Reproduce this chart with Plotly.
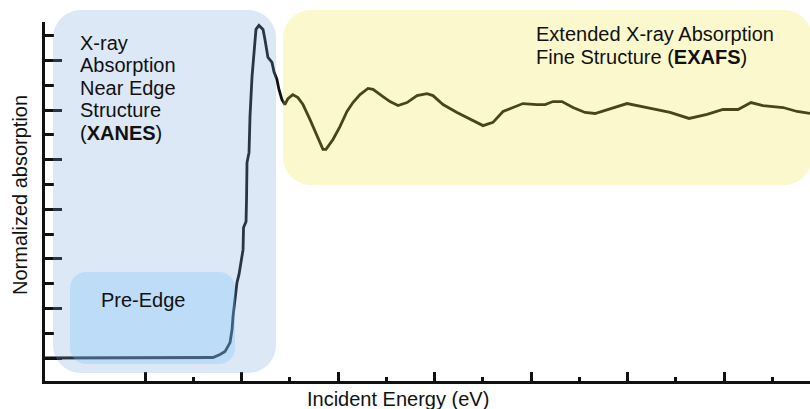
import plotly.graph_objects as go

# Normalized absorption spectrum across an absorption edge
energy_ev = [
    8896.0, 8953.0, 9005.0, 9057.0, 9070.5, 9077.7, 9082.9, 9088.1, 9090.2, 9091.2,
    9093.3, 9095.3, 9097.4, 9099.5, 9101.6, 9102.1, 9104.7, 9105.2, 9105.7, 9107.8,
    9108.8, 9110.9, 9113.0, 9115.0, 9118.1, 9122.3, 9124.3, 9126.4, 9127.4, 9131.6,
    9133.6, 9136.7, 9138.8, 9141.9, 9145.0, 9148.1, 9153.2, 9158.5, 9163.7, 9170.9,
    9178.2, 9184.4, 9187.5, 9194.8, 9202.0, 9209.3, 9215.5, 9222.8, 9231.1, 9236.3,
    9246.6, 9253.9, 9262.2, 9271.5, 9281.9, 9292.2, 9298.4, 9308.8, 9323.3, 9336.8,
    9350.3, 9360.6, 9371.0, 9381.4, 9391.7, 9406.2, 9414.5, 9422.8, 9432.1, 9443.5,
    9456.0, 9466.3, 9485.0, 9499.5, 9520.2, 9544.1, 9563.8, 9582.4, 9599.0, 9614.5,
    9628.0, 9640.4, 9661.2, 9675.7, 9689.1,
]
absorption = [
    0.000, 0.000, 0.000, 0.000, 0.002, 0.014, 0.026, 0.062, 0.115, 0.167,
    0.248, 0.304, 0.337, 0.397, 0.437, 0.526, 0.550, 0.639, 0.788, 0.829,
    0.974, 1.135, 1.232, 1.325, 1.341, 1.325, 1.284, 1.244, 1.212, 1.192,
    1.155, 1.123, 1.083, 1.042, 1.022, 1.046, 1.062, 1.050, 1.022, 0.962,
    0.893, 0.841, 0.841, 0.881, 0.933, 0.994, 1.030, 1.062, 1.087, 1.083,
    1.054, 1.034, 1.018, 1.030, 1.058, 1.066, 1.058, 1.022, 0.990, 0.962,
    0.937, 0.950, 0.994, 1.010, 1.026, 1.022, 1.022, 1.034, 1.034, 1.010,
    0.990, 0.986, 1.010, 1.026, 1.010, 0.990, 0.966, 0.982, 1.002, 1.002,
    1.030, 1.018, 1.010, 0.994, 0.986,
]

# Axis ticks (labels hidden)
x_major_ticks = [9000, 9100, 9200, 9300, 9400, 9500, 9600]
x_minor_ticks = [9050, 9150, 9250, 9350, 9450, 9550, 9650]
y_major_ticks = [0.0, 0.2, 0.4, 0.6, 0.8, 1.0, 1.2]
y_minor_ticks = [0.1, 0.3, 0.5, 0.7, 0.9, 1.1, 1.3]

# Region labels
xanes_lines = ["X-ray", "Absorption", "Near Edge", "Structure", "(<b>XANES</b>)"]
exafs_lines = ["Extended X-ray Absorption", "Fine Structure (<b>EXAFS</b>)"]
pre_edge_label = "Pre-Edge"
x_title = "Incident Energy (eV)"
y_title = "Normalized absorption"

W, H = 810, 409
M = dict(l=45, r=0, t=22, b=28)
PW = W - M["l"] - M["r"]
PH = H - M["t"] - M["b"]
FONT = "Liberation Sans, Arial, sans-serif"
INK = "#111111"


def px_x(x):
    """Canvas x (pixels) -> paper fraction."""
    return (x - M["l"]) / PW


def px_y(y):
    """Canvas y (pixels from top) -> paper fraction."""
    return (H - M["b"] - y) / PH


def rounded_box(left, top, right, bottom, r):
    """SVG path of a rounded rectangle given in canvas pixels, in paper units."""
    k = 0.4477  # bezier offset for a quarter circle (1 - 0.5523)
    x0, x1 = px_x(left), px_x(right)
    y0, y1 = px_y(top), px_y(bottom)
    rx, ry = r / PW, r / PH
    kx, ky = rx * k, ry * k
    return (
        f"M {x0 + rx},{y0} L {x1 - rx},{y0} "
        f"C {x1 - kx},{y0} {x1},{y0 - ky} {x1},{y0 - ry} "
        f"L {x1},{y1 + ry} "
        f"C {x1},{y1 + ky} {x1 - kx},{y1} {x1 - rx},{y1} "
        f"L {x0 + rx},{y1} "
        f"C {x0 + kx},{y1} {x0},{y1 + ky} {x0},{y1 + ry} "
        f"L {x0},{y0 - ry} "
        f"C {x0},{y0 - ky} {x0 + kx},{y0} {x0 + rx},{y0} Z"
    )


fig = go.Figure()
fig.add_trace(go.Scatter(
    x=energy_ev, y=absorption, mode="lines",
    line=dict(color=INK, width=2.8),
    hoverinfo="skip", showlegend=False,
))

# Translucent region highlights drawn over the spectrum
regions = [
    (rounded_box(53, 10, 276, 373, 28), "rgba(115,163,215,0.25)"),
    (rounded_box(70, 272, 235, 364, 16), "rgba(120,192,255,0.30)"),
    (rounded_box(283, 10, 812, 185, 28), "rgba(243,227,59,0.25)"),
]
for path, fill in regions:
    fig.add_shape(type="path", path=path, xref="paper", yref="paper",
                  fillcolor=fill, line=dict(width=0), layer="above")

text_font = dict(family=FONT, size=20, color=INK)


def label(text, x, y_mid, **kw):
    fig.add_annotation(text=text, x=px_x(x), y=px_y(y_mid), xref="paper", yref="paper",
                       xanchor=kw.pop("xanchor", "left"), yanchor="middle",
                       showarrow=False, font=text_font, **kw)


for i, line in enumerate(xanes_lines):
    label(line, 78, 42.5 + 22.5 * i)
for i, line in enumerate(exafs_lines):
    label(line, 534, 34 + 23.3 * i)
label(pre_edge_label, 99, 300)
label(x_title, 397.5, 399, xanchor="center")
label(y_title, 20, 195, xanchor="center", textangle=-90)

fig.update_layout(
    width=W, height=H, margin=M,
    paper_bgcolor="white", plot_bgcolor="white",
    showlegend=False,
    xaxis=dict(
        range=[8896.37, 9689.1], showgrid=False, zeroline=False,
        showline=True, linewidth=3, linecolor=INK,
        tickmode="array", tickvals=x_major_ticks, showticklabels=False,
        ticks="inside", ticklen=9, tickwidth=2.5, tickcolor=INK,
        minor=dict(tickmode="array", tickvals=x_minor_ticks, ticks="inside",
                   ticklen=4, tickwidth=2.5, tickcolor=INK, showgrid=False),
    ),
    yaxis=dict(
        range=[-0.0927, 1.3548], showgrid=False, zeroline=False,
        showline=True, linewidth=3, linecolor=INK,
        tickmode="array", tickvals=y_major_ticks, showticklabels=False,
        ticks="inside", ticklen=17, tickwidth=2.5, tickcolor=INK,
        minor=dict(tickmode="array", tickvals=y_minor_ticks, ticks="inside",
                   ticklen=9, tickwidth=2.5, tickcolor=INK, showgrid=False),
    ),
)

fig.write_html("out.html")
